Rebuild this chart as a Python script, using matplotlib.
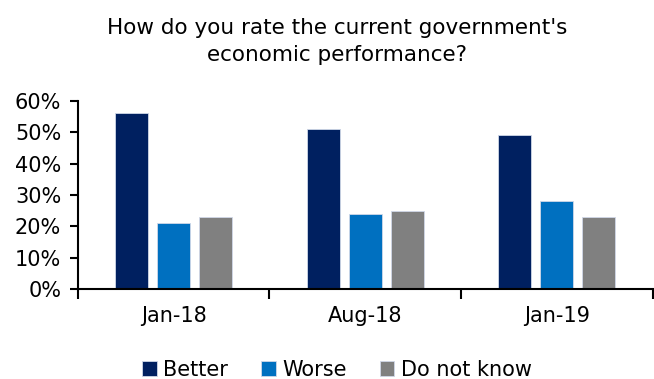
import numpy as np
import matplotlib.pyplot as plt
from matplotlib.ticker import PercentFormatter, FixedLocator

categories = ["Jan-18", "Aug-18", "Jan-19"]
series = ["Better", "Worse", "Do not know"]
better = [56, 51, 49]
worse = [21, 24, 28]
dont_know = [23, 25, 23]
colors = ["#002060", "#0070C0", "#808080"]

plt.rcParams['font.family'] = ['DejaVu Sans']

fig = plt.figure(figsize=(6.54, 3.79), dpi=100)
ax = fig.add_axes([0.119, 0.237, 0.879, 0.497])

x = np.arange(len(categories))
w = 0.172
step = 0.219
for i, (vals, name) in enumerate(zip([better, worse, dont_know], series)):
    ax.bar(x + (i - 1) * step, np.array(vals) / 100, width=w, color=colors[i],
           edgecolor="#d0d8e8", linewidth=0.6, label=name)

ax.set_xlim(-0.5, 2.5)
ax.set_ylim(0, 0.6)
ax.set_yticks(np.arange(0, 0.61, 0.1))
ax.yaxis.set_major_formatter(PercentFormatter(1.0, decimals=0))
ax.set_xticks(x)
ax.set_xticklabels(categories)
ax.xaxis.set_minor_locator(FixedLocator([-0.5, 0.5, 1.5, 2.5]))
ax.tick_params(axis="x", which="major", length=0, labelsize=15, pad=12)
ax.tick_params(axis="x", which="minor", length=7, width=1.5, direction="out")
ax.tick_params(axis="y", length=6, width=1.5, labelsize=15, pad=6)

for s in ["top", "right"]:
    ax.spines[s].set_visible(False)
ax.spines["left"].set_linewidth(1.5)
ax.spines["bottom"].set_linewidth(1.5)

fig.text(0.515, 0.89, "How do you rate the current government's\neconomic performance?",
         ha="center", va="center", fontsize=15.5, linespacing=1.4)

fig.legend(loc="center", bbox_to_anchor=(0.515, 0.025), ncol=3, frameon=False,
           fontsize=15, handlelength=0.7, handleheight=0.7, handletextpad=0.3,
           columnspacing=1.6)

fig.savefig("out.png", dpi=100)
